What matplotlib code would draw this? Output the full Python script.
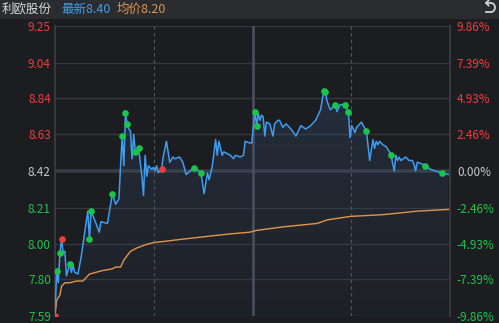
import numpy as np
import matplotlib.pyplot as plt
from matplotlib.lines import Line2D
from matplotlib.patches import Rectangle, Arc

plt.rcParams['font.family'] = ['Noto Sans CJK SC', 'DejaVu Sans']

# header info
stock_name = '利欧股份'
last_label = '最新8.40'
avg_label = '均价8.20'
prev_close = 8.42

# axis ticks
price_ticks = [7.59, 7.80, 8.00, 8.21, 8.42, 8.63, 8.84, 9.04, 9.25]
pct_ticks = ['-9.86%', '-7.39%', '-4.93%', '-2.46%', '0.00%', '2.46%', '4.93%', '7.39%', '9.86%']

# minute price line (minute index from open, 242 minutes in a day)
minutes = [0, 1, 2, 3, 4, 5, 6, 7, 9, 10, 11, 12, 14, 16, 20, 21, 22, 25, 27, 28,
           32, 35, 37, 39, 40, 41, 42, 43, 44, 45, 46, 47, 48, 49, 51, 53, 54, 55, 56, 57,
           59, 60, 61, 62, 63, 65, 66, 68, 70, 72, 73, 76, 78, 80, 85, 89, 91, 93, 94, 96,
           98, 99, 100, 102, 103, 105, 107, 109, 110, 113, 115, 116, 119, 120, 122, 123, 124, 125, 126, 127,
           128, 129, 131, 133, 134, 136, 137, 139, 141, 144, 147, 150, 153, 156, 159, 162, 164, 165, 166, 168,
           171, 172, 174, 176, 177, 179, 180, 181, 183, 184, 187, 188, 190, 192, 194, 195, 196, 197, 198, 200,
           202, 204, 205, 207, 208, 209, 210, 211, 214, 216, 218, 219, 220, 221, 224, 226, 229, 232, 236, 240]
prices = [7.59, 7.85, 7.78, 7.95, 8.03, 7.95, 7.96, 7.82, 7.89, 7.84, 7.88, 7.84, 7.83, 7.93, 8.19, 8.03, 8.19, 8.12, 8.07, 8.13,
          8.12, 8.29, 8.23, 8.26, 8.45, 8.62, 8.45, 8.75, 8.69, 8.66, 8.65, 8.49, 8.63, 8.53, 8.55, 8.39, 8.28, 8.51, 8.39, 8.45,
          8.43, 8.44, 8.42, 8.45, 8.41, 8.43, 8.50, 8.59, 8.47, 8.50, 8.49, 8.50, 8.47, 8.40, 8.44, 8.41, 8.29, 8.41, 8.37, 8.45,
          8.60, 8.51, 8.59, 8.51, 8.53, 8.52, 8.51, 8.49, 8.51, 8.50, 8.51, 8.59, 8.58, 8.58, 8.76, 8.68, 8.75, 8.71, 8.74, 8.73,
          8.62, 8.70, 8.69, 8.62, 8.69, 8.71, 8.71, 8.67, 8.69, 8.66, 8.62, 8.68, 8.66, 8.68, 8.71, 8.77, 8.88, 8.87, 8.82, 8.77,
          8.80, 8.76, 8.80, 8.80, 8.80, 8.76, 8.61, 8.68, 8.64, 8.67, 8.70, 8.68, 8.65, 8.48, 8.60, 8.55, 8.59, 8.57, 8.59, 8.57,
          8.56, 8.53, 8.51, 8.42, 8.51, 8.48, 8.50, 8.48, 8.50, 8.48, 8.48, 8.46, 8.42, 8.47, 8.46, 8.45, 8.43, 8.42, 8.41, 8.40]

# average price line
avg_minutes = [0, 1, 3, 4, 6, 9, 13, 17, 19, 21, 25, 29, 35, 37, 40, 42, 46, 50, 56, 60,
               78, 97, 107, 119, 123, 139, 160, 166, 180, 200, 221, 240]
avg_prices = [7.59, 7.68, 7.71, 7.76, 7.78, 7.78, 7.79, 7.79, 7.81, 7.83, 7.84, 7.85, 7.86, 7.87, 7.87, 7.91, 7.96, 7.98, 8.00, 8.01,
              8.03, 8.05, 8.06, 8.07, 8.08, 8.10, 8.12, 8.14, 8.16, 8.17, 8.19, 8.20]

# signal dots (minute indices on the price line)
green_dots = [1, 3, 9, 21, 22, 35, 41, 43, 44, 49, 51, 85, 89, 122, 123, 164, 165, 171, 177, 179, 190, 205, 226, 236]
red_dots = [0, 4, 65]

bg = '#1c1d21'
fig = plt.figure(figsize=(4.99, 3.23), dpi=100, facecolor=bg)
ax = fig.add_axes([55 / 499, 7 / 323, 395 / 499, 290 / 323])
ax.set_facecolor(bg)

# header bar
fig.patches.append(Rectangle((0, 1 - 19 / 323), 1, 19 / 323, transform=fig.transFigure,
                             facecolor='#2a2c30', edgecolor='none', zorder=0))
hy = 1 - 9.5 / 323
fig.text(2 / 499, hy, stock_name, color='#d8d8d8', fontsize=9, va='center', ha='left')
fig.text(61 / 499, hy, last_label, color='#3d9df0', fontsize=9, va='center', ha='left')
fig.text(117 / 499, hy, avg_label, color='#e0964a', fontsize=9, va='center', ha='left')

# return icon top right
fig.add_artist(Arc((491 / 499, 1 - 7.5 / 323), 8 / 499, 9 / 323, theta1=-90, theta2=90,
                   transform=fig.transFigure, color='#d0d0d0', lw=1.3))
fig.add_artist(Line2D([486 / 499, 491 / 499], [1 - 3 / 323, 1 - 3 / 323], transform=fig.transFigure,
                      color='#d0d0d0', lw=1.3))
fig.add_artist(Line2D([486 / 499, 491 / 499], [1 - 12 / 323, 1 - 12 / 323], transform=fig.transFigure,
                      color='#d0d0d0', lw=1.3))
fig.add_artist(Line2D([488.5 / 499, 486 / 499, 488.5 / 499], [1 - 0.5 / 323, 1 - 3 / 323, 1 - 5.5 / 323],
                      transform=fig.transFigure, color='#d0d0d0', lw=1.3))

xmax = 241
ymin, ymax = price_ticks[0], price_ticks[-1]

# grid
for p in price_ticks:
    if p == prev_close:
        ax.axhline(p, color='#393c43', lw=2.6, zorder=1)
    else:
        ax.axhline(p, color='#35373c', lw=1.0, zorder=1)
for m in (xmax / 4, xmax * 3 / 4):
    ax.axvline(m, color='#55585e', lw=0.8, ls=(0, (3, 3)), zorder=1)
ax.axvline(xmax / 2, color='#4a4d55', lw=2.0, zorder=1)

# gradient area under price line
poly = ax.fill_between(minutes, prices, ymin, color='none', lw=0)
clip = poly.get_paths()[0]
n = 256
grad = np.zeros((n, 1, 4))
grad[:, 0, 0] = 0.22
grad[:, 0, 1] = 0.32
grad[:, 0, 2] = 0.46
grad[:, 0, 3] = np.linspace(0.06, 0.32, n)
img = ax.imshow(grad, extent=[0, xmax, ymin, max(prices)], aspect='auto', origin='lower', zorder=2)
img.set_clip_path(clip, transform=ax.transData)

ax.plot(avg_minutes, avg_prices, color='#e0964a', lw=1.0, zorder=3)
ax.plot(minutes, prices, color='#3d9df0', lw=1.1, zorder=4)

lookup = dict(zip(minutes, prices))
ax.plot(green_dots, [lookup[m] for m in green_dots], 'o', color='#1ac54c', ms=4.8, mew=0, zorder=5)
ax.plot(red_dots, [lookup[m] for m in red_dots], 'o', color='#f23c3c', ms=4.8, mew=0, zorder=5)

ax.set_xlim(0, xmax)
ax.set_ylim(ymin, ymax)
ax.set_xticks([])
for s in ('top', 'bottom'):
    ax.spines[s].set_visible(False)
for s in ('left', 'right'):
    ax.spines[s].set_color('#3c3e44')
    ax.spines[s].set_linewidth(1.2)


def tick_color(i):
    if i > 4:
        return '#f03c3c'
    if i < 4:
        return '#1ac54c'
    return '#c8c8c8'


ax.set_yticks(price_ticks)
ax.set_yticklabels(['%.2f' % p for p in price_ticks], fontsize=8.5)
ax.tick_params(axis='y', length=0, pad=3)
for i, lab in enumerate(ax.get_yticklabels()):
    lab.set_color(tick_color(i))

ax2 = ax.twinx()
ax2.set_ylim(ymin, ymax)
ax2.set_yticks(price_ticks)
ax2.set_yticklabels(pct_ticks, fontsize=8.5)
ax2.tick_params(axis='y', length=0, pad=5)
for s in ax2.spines.values():
    s.set_visible(False)
for i, lab in enumerate(ax2.get_yticklabels()):
    lab.set_color(tick_color(i))

fig.savefig('out.png', dpi=100, facecolor=bg)
